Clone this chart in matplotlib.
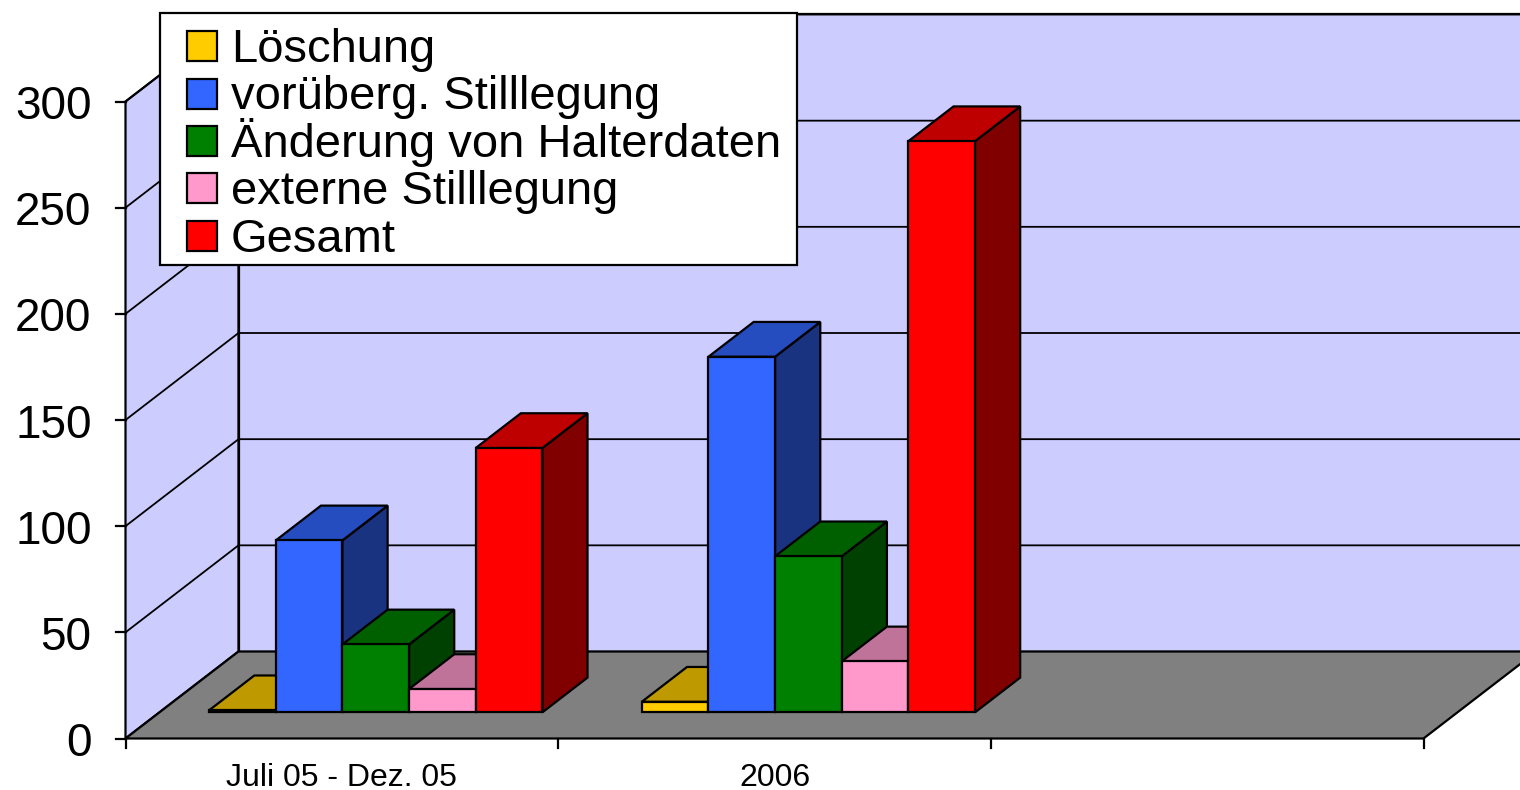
import matplotlib
matplotlib.use('Agg')
import matplotlib.pyplot as plt
from matplotlib.patches import Polygon, Rectangle

plt.rcParams['font.family'] = ['Liberation Sans', 'DejaVu Sans']

categories = ['Juli 05 - Dez. 05', '2006', '']
series_names = ['Löschung', 'vorüberg. Stilllegung', 'Änderung von Halterdaten',
                'externe Stilllegung', 'Gesamt']
loeschung = [1, 5, 0]
stilllegung = [81, 167.5, 0]
halterdaten = [32, 73.5, 0]
extern = [11, 24, 0]
gesamt = [124.5, 269, 0]
yticks = [0, 50, 100, 150, 200, 250, 300]

front = ['#FFCC00', '#3366FF', '#008000', '#FF99CC', '#FF0000']
top = ['#BF9900', '#264DBF', '#006000', '#BF7399', '#BF0000']
side = ['#806600', '#1A3380', '#004000', '#804D66', '#800000']

W, H = 1520, 790
fig = plt.figure(figsize=(W / 100, H / 100), dpi=100)
ax = fig.add_axes([125.5 / W, 1 - 738.5 / H, 1298 / W, 637 / H])
ax.set_xlim(0, 3)
ax.set_ylim(0, 300)
ax.axis('off')

# one unit of depth in data units
dx = 113 / (1298 / 3)
dy = 87 / (637 / 300)
LW = 1.6


def poly(pts, fc, z):
    p = Polygon(pts, closed=True, fc=fc, ec='black', lw=LW, zorder=z, clip_on=False)
    ax.add_patch(p)


def box(x0, x1, h, d0, d1, c, z):
    a0, b0 = d0 * dx, d0 * dy
    a1, b1 = d1 * dx, d1 * dy
    if h > 0:
        poly([(x1 + a0, b0), (x1 + a1, b1), (x1 + a1, b1 + h), (x1 + a0, b0 + h)], side[c], z)
    poly([(x0 + a0, b0 + h), (x1 + a0, b0 + h), (x1 + a1, b1 + h), (x0 + a1, b1 + h)], top[c], z)
    poly([(x0 + a0, b0), (x1 + a0, b0), (x1 + a0, b0 + h), (x0 + a0, b0 + h)], front[c], z + 0.1)


# walls and floor
wall = '#CCCCFF'
poly([(0, 0), (dx, dy), (dx, 300 + dy), (0, 300)], wall, 1)
poly([(dx, dy), (3 + dx, dy), (3 + dx, 300 + dy), (dx, 300 + dy)], wall, 1)
poly([(0, 0), (3, 0), (3 + dx, dy), (dx, dy)], '#808080', 2)
for v in yticks[1:]:
    ax.plot([0, dx, 3 + dx], [v, v + dy, v + dy], color='black', lw=1.3, clip_on=False, zorder=1.5)

# ticks
for v in yticks:
    ax.plot([-0.022, 0], [v, v], color='black', lw=LW, clip_on=False, zorder=3)
    ax.text(-0.0785, v - 8.3, str(v), ha='right', va='baseline', fontsize=33, color='black')
for i in range(4):
    ax.plot([i, i], [0, -4.5], color='black', lw=LW, clip_on=False, zorder=3)
for i, c in enumerate(categories):
    ax.text(i + 0.5, -18.4, c, ha='center', va='center', fontsize=23, color='black')

# bars
values = [loeschung, stilllegung, halterdaten, extern, gesamt]
bar_w = 0.154
start = 0.115
for cat in range(2):
    for s, vals in enumerate(values):
        x0 = cat + start + s * bar_w
        box(x0, x0 + bar_w, vals[cat], 0.3, 0.7, s, 4 + cat + s * 0.2)

# legend box, placed in figure fractions
swatch_y = [46, 94, 141, 188, 236]
text_y = [62, 109, 157, 204, 252]
fig.add_artist(Rectangle((160 / W, 1 - 265 / H), 637 / W, 252 / H, fc='white', ec='black',
                         lw=LW, zorder=20))
for i, name in enumerate(series_names):
    fig.add_artist(Rectangle((187 / W, 1 - (swatch_y[i] + 15) / H), 30 / W, 30 / H, fc=front[i],
                             ec='black', lw=LW, zorder=21))
    fig.text(231 / W, 1 - text_y[i] / H, name, ha='left', va='baseline', fontsize=33.9,
             color='black', zorder=21)

fig.savefig('out.png', dpi=100)
